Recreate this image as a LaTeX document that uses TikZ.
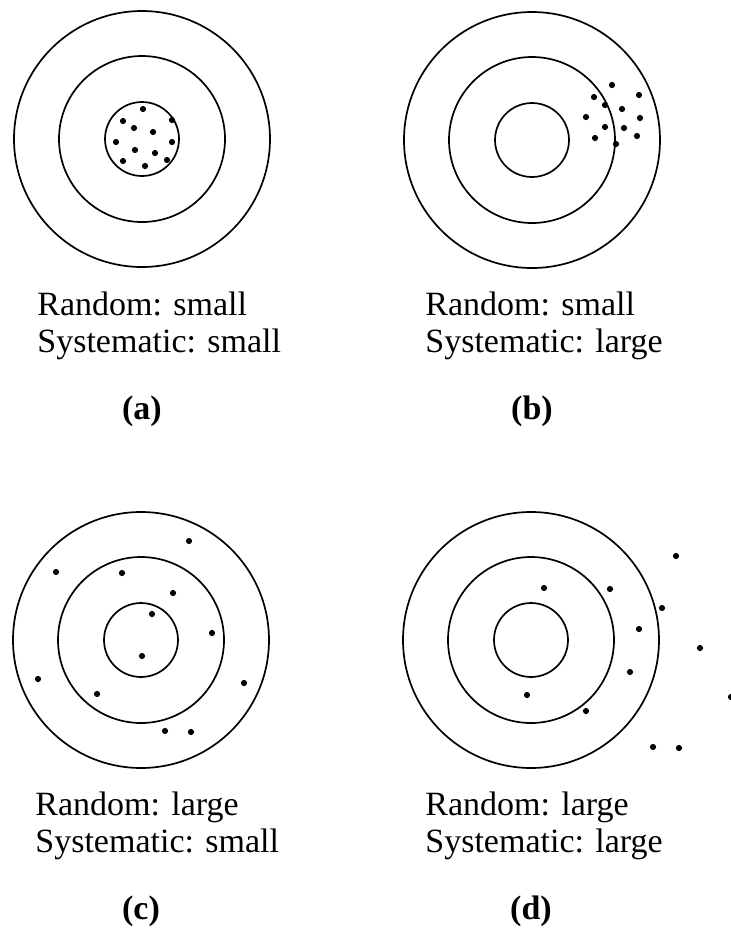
\documentclass[tikz,border=0pt]{standalone}
\usepackage{fontspec}
\setmainfont{Liberation Serif}
\usetikzlibrary{positioning}

\begin{document}
\begin{tikzpicture}[
    x=0.5pt, y=-0.5pt,
    ring/.style={draw, line width=0.85pt},
    hit/.style={fill=black},
    caption/.style={anchor=base west, inner sep=0pt, font=\fontsize{17}{18}\selectfont},
    panel/.style={anchor=base, inner sep=0pt, font=\fontsize{17}{18}\selectfont\bfseries}
]
\useasboundingbox (0,0) rectangle (730,928);

% Target centres
\coordinate (ca) at (142,139);
\coordinate (cb) at (532,140);
\coordinate (cc) at (141,640);
\coordinate (cd) at (531,640);

% Rings
\foreach \c in {ca,cb,cc,cd}
  \foreach \r in {64pt,41.5pt,18.5pt}
    \draw[ring] (\c) circle (\r);

% Hits
\foreach \p in {(143,109),(172,120),(123,121),(134,128),(153,132),(116,142),
                (172,142),(135,150),(155,153),(123,161),(167,160),(145,166)}
  \fill[hit] \p circle (1.55pt);
\foreach \p in {(612,85),(594,97),(639,95),(605,105),(622,109),(586,117),
                (640,118),(605,127),(624,128),(595,138),(637,136),(616,144)}
  \fill[hit] \p circle (1.55pt);
\foreach \p in {(189,541),(56,572),(122,573),(173,593),(152,614),(212,633),
                (142,656),(38,679),(97,694),(244,683),(165,731),(191,732)}
  \fill[hit] \p circle (1.55pt);
\foreach \p in {(676,556),(544,588),(610,589),(662,608),(639,629),(700,648),
                (630,672),(527,695),(586,711),(653,747),(679,748),(731,697)}
  \fill[hit] \p circle (1.55pt);

% Captions
\node[caption] (randa) at (37,315) {Random: small};
\node[caption] (sysa) at (37,352) {Systematic: small};
\node[panel] (laba) at (142,419) {(a)};

\node[caption] (randb) at (425,315) {Random: small};
\node[caption] (sysb) at (425,352) {Systematic: large};
\node[panel] (labb) at (532,419) {(b)};

\node[caption] (randc) at (35,815) {Random: large};
\node[caption] (sysc) at (35,852) {Systematic: small};
\node[panel] (labc) at (141,919) {(c)};

\node[caption] (randd) at (425,815) {Random: large};
\node[caption] (sysd) at (425,852) {Systematic: large};
\node[panel] (labd) at (531,919) {(d)};

\end{tikzpicture}
\end{document}
